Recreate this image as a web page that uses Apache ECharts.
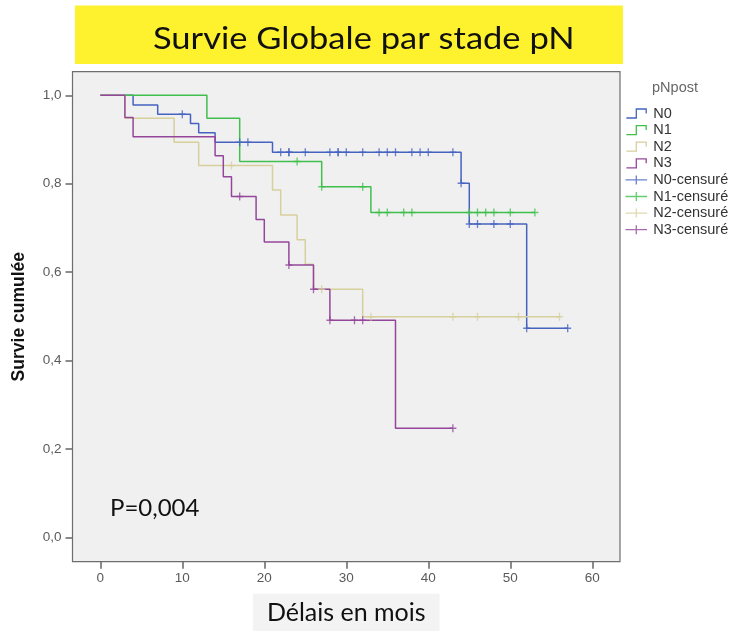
<!DOCTYPE html>
<html>
<head>
<meta charset="utf-8">
<title>Survie Globale par stade pN</title>
<script src="https://cdn.jsdelivr.net/npm/echarts@6/dist/echarts.min.js"></script>
<style>
  html, body { margin: 0; padding: 0; background: #ffffff; }
  #chart { width: 731px; height: 631px; }
</style>
</head>
<body>
<div id="chart"></div>
<script>
// Kaplan–Meier estimates by pN stage: step times (months) and cumulative survival after each step
const n0Times = [0, 4, 7, 11, 12, 14, 21, 44, 45, 52];
const n0Surv  = [1.000, 0.978, 0.957, 0.936, 0.915, 0.894, 0.871, 0.801, 0.709, 0.473];
const n0End = 57;
const n0Censored = [10, 17, 18, 22, 23, 23, 25, 28, 29, 29, 30, 32, 34, 35, 36, 38, 39, 40, 43, 44, 45, 46, 48, 50, 52, 57];

const n1Times = [0, 13, 17, 27, 33];
const n1Surv  = [1.000, 0.948, 0.850, 0.793, 0.735];
const n1End = 53;
const n1Censored = [24, 27, 32, 34, 35, 37, 38, 45, 46, 47, 48, 50, 53];

const n2Times = [0, 3, 9, 12, 21, 22, 24, 25, 26, 32];
const n2Surv  = [1.000, 0.948, 0.894, 0.841, 0.786, 0.729, 0.673, 0.618, 0.561, 0.499];
const n2End = 56;
const n2Censored = [16, 27, 33, 43, 46, 51, 56];

const n3Times = [0, 3, 4, 14, 15, 16, 19, 20, 23, 26, 28, 36];
const n3Surv  = [1.000, 0.950, 0.906, 0.863, 0.816, 0.771, 0.719, 0.668, 0.616, 0.561, 0.491, 0.247];
const n3End = 43;
const n3Censored = [17, 23, 26, 28, 31, 32, 43];

const groupNames = ['N0', 'N1', 'N2', 'N3'];
const censoredNames = ['N0-censuré', 'N1-censuré', 'N2-censuré', 'N3-censuré'];
const xTickValues = [0, 10, 20, 30, 40, 50, 60];
const yTickValues = [0, 0.2, 0.4, 0.6, 0.8, 1.0];
const pValueText = 'P=0,004';

const colors = ['#4663bf', '#40bf4d', '#d6d09c', '#94479a'];

const groups = [
  { times: n0Times, surv: n0Surv, end: n0End, censored: n0Censored },
  { times: n1Times, surv: n1Surv, end: n1End, censored: n1Censored },
  { times: n2Times, surv: n2Surv, end: n2End, censored: n2Censored },
  { times: n3Times, surv: n3Surv, end: n3End, censored: n3Censored }
];

// survival value of a group at time t (right-continuous step function)
function survAt(g, t) {
  let v = g.surv[0];
  for (let i = 0; i < g.times.length; i++) {
    if (g.times[i] <= t) v = g.surv[i];
  }
  return v;
}

function stepData(g) {
  const pts = g.times.map((t, i) => [t, g.surv[i]]);
  pts.push([g.end, g.surv[g.surv.length - 1]]);
  return pts;
}

function censorData(g) {
  return g.censored.map(t => [t, survAt(g, t)]);
}

const STEP_ICON = 'path://M0,10 L11,10 L11,0 L22,0 L22,5';
const PLUS_ICON = 'path://M0,5 L24,5 M12,0 L12,10';
const PLUS_MARK = 'path://M0,5 L10,5 M5,0 L5,10';

const series = [];
groups.forEach((g, i) => {
  series.push({
    name: groupNames[i],
    type: 'line',
    step: 'end',
    data: stepData(g),
    showSymbol: false,
    symbol: 'none',
    lineStyle: { color: colors[i], width: 1.5 },
    itemStyle: { color: colors[i] },
    z: 2 + i
  });
});
groups.forEach((g, i) => {
  series.push({
    name: censoredNames[i],
    type: 'scatter',
    data: censorData(g),
    symbol: PLUS_MARK,
    symbolSize: [7, 8],
    itemStyle: { color: colors[i], borderColor: colors[i], borderWidth: 1.4 },
    z: 10 + i
  });
});

const legendData = groupNames.map((n, i) => ({
  name: n, icon: STEP_ICON,
  itemStyle: { color: 'none', borderColor: colors[i], borderWidth: 1.3 }
})).concat(censoredNames.map((n, i) => ({
  name: n, icon: PLUS_ICON,
  itemStyle: { color: 'none', borderColor: colors[i], borderWidth: 1.3 }
})));

const chart = echarts.init(document.getElementById('chart'), null, { renderer: 'canvas' });

const gridLeft = 72.5, gridTop = 71.7, gridRight = 620, gridBottom = 561.7;

chart.setOption({
  animation: false,
  backgroundColor: '#ffffff',
  grid: {
    left: gridLeft, top: gridTop,
    width: gridRight - gridLeft, height: gridBottom - gridTop,
    containLabel: false, outerBoundsMode: 'none',
    show: true, backgroundColor: '#f0f0f0',
    borderColor: '#6e6e6e', borderWidth: 1.2
  },
  xAxis: {
    type: 'value', min: -3.39, max: 63.38,
    splitLine: { show: false },
    axisLine: { show: false, onZero: false },
    axisTick: { show: true, inside: false, length: 7, customValues: xTickValues,
      lineStyle: { color: '#666', width: 1.5 } },
    axisLabel: { customValues: xTickValues, margin: 10, color: '#5a5a5a',
      fontFamily: 'Liberation Sans', fontSize: 13.5,
      formatter: v => String(Math.round(v)) },
    name: 'Délais en mois', nameLocation: 'middle', nameGap: 32,
    nameTextStyle: { fontFamily: 'Lato', fontSize: 25, color: '#111',
      backgroundColor: '#f3f3f3', lineHeight: 30, padding: [4, 14, 8, 14] }
  },
  yAxis: {
    type: 'value', min: -0.0552, max: 1.0534,
    splitLine: { show: false },
    axisLine: { show: false, onZero: false },
    axisTick: { show: true, inside: false, length: 7, customValues: yTickValues,
      lineStyle: { color: '#666', width: 1.5 } },
    axisLabel: { customValues: yTickValues, margin: 11, color: '#5a5a5a',
      fontFamily: 'Liberation Sans', fontSize: 13.5,
      formatter: v => v.toFixed(1).replace('.', ',') },
    name: 'Survie cumulée', nameLocation: 'middle', nameGap: 44,
    nameTextStyle: { fontFamily: 'Liberation Sans', fontWeight: 'bold', fontSize: 17.5, color: '#111' }
  },
  legend: {
    orient: 'vertical', left: 623, top: 106, padding: 0,
    itemWidth: 24, itemHeight: 9, itemGap: 1.6,
    textStyle: { fontFamily: 'Liberation Sans', fontSize: 14.5, color: '#333', lineHeight: 14 },
    data: legendData
  },
  graphic: [
    { type: 'rect', shape: { x: 75, y: 5.5, width: 548, height: 58.5 },
      style: { fill: '#fef22f' }, z: 0 },
    { type: 'text', x: 153, y: 39, scaleX: 1.15,
      style: { text: 'Survie Globale par stade pN', font: '30px Lato', fill: '#111',
        align: 'left', verticalAlign: 'middle' }, z: 1 },
    { type: 'text', x: 110, y: 508,
      style: { text: pValueText, font: '24px Lato', fill: '#111',
        align: 'left', verticalAlign: 'middle' }, z: 20 },
    { type: 'text', x: 675, y: 88,
      style: { text: 'pNpost', font: '14.5px Liberation Sans', fill: '#666',
        align: 'center', verticalAlign: 'middle' }, z: 20 }
  ],
  series: series
});
</script>
</body>
</html>
